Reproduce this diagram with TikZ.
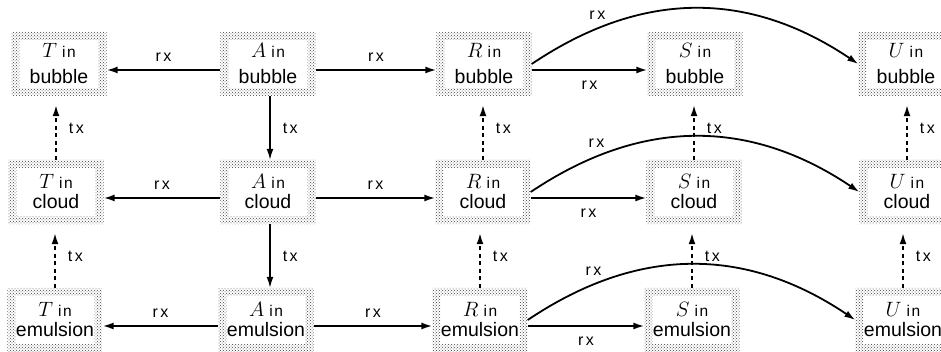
\documentclass[tikz,border=0pt]{standalone}
\usepackage{fontspec}
\setmainfont{Liberation Sans}
\newfontfamily\labfont[LetterSpace=16]{Liberation Sans}
\newfontfamily\infont[LetterSpace=10]{Liberation Sans}
\usetikzlibrary{arrows.meta,patterns}
\newcommand\bx[2]{{\fontsize{22}{22}\selectfont$#1$}\hspace{5pt}{\infont\fontsize{15.5}{15.5}\selectfont in}\\#2}
\begin{document}
\begin{tikzpicture}[x=1pt,y=-1pt,
  box/.style={minimum width=95pt,minimum height=64pt,inner sep=0pt,align=center,font=\fontsize{19.5}{26}\selectfont},
  tight/.style={font=\fontsize{19.5}{20}\selectfont},
  arr/.style={-{Latex[length=11pt,width=7pt]},line width=1.8pt},
  darr/.style={arr,line width=1.6pt,dash pattern=on 4pt off 3.5pt,shorten >=9pt},
  lab/.style={font=\labfont\fontsize{16}{16}\selectfont,inner sep=0pt},
  frame/.style={pattern=crosshatch dots,pattern color=black!75,even odd rule}]
\useasboundingbox (0,0) rectangle (941,352);
% boxes
\node[box] (Tb) at (59,64) {\bx{T}{bubble}};
\node[box] (Ab) at (268,64) {\bx{A}{bubble}};
\node[box] (Rb) at (484,64) {\bx{R}{bubble}};
\node[box] (Sb) at (695,64) {\bx{S}{bubble}};
\node[box] (Ub) at (906,64) {\bx{U}{bubble}};
\node[box,tight] (Tc) at (56,192) {\bx{T}{cloud}};
\node[box,tight] (Ac) at (268,192) {\bx{A}{cloud}};
\node[box,tight] (Rc) at (483,192) {\bx{R}{cloud}};
\node[box,tight] (Sc) at (694,192) {\bx{S}{cloud}};
\node[box,tight] (Uc) at (907,192) {\bx{U}{cloud}};
\node[box,tight] (Te) at (55,320) {\bx{T}{emulsion}};
\node[box,tight] (Ae) at (266,320) {\bx{A}{emulsion}};
\node[box,tight] (Re) at (480,320) {\bx{R}{emulsion}};
\node[box,tight] (Se) at (692,320) {\bx{S}{emulsion}};
\node[box,tight] (Ue) at (903,320) {\bx{U}{emulsion}};
\foreach \n in {Tb,Ab,Rb,Sb,Ub,Tc,Ac,Rc,Sc,Uc,Te,Ae,Re,Se,Ue}
  \path[frame] (\n.north west) rectangle (\n.south east)
    ([xshift=8pt,yshift=-8pt]\n.north west) rectangle ([xshift=-8pt,yshift=8pt]\n.south east);
% horizontal reactions
\foreach \r in {b,c,e}{
  \draw[arr] ([yshift=-6pt]A\r.west) -- ([yshift=-6pt]T\r.east) node[midway,above=8pt,lab]{rx};
  \draw[arr] ([yshift=-6pt]A\r.east) -- ([yshift=-6pt]R\r.west) node[midway,above=8pt,lab]{rx};
  \draw[arr] ([yshift=-6pt]R\r.east) -- ([yshift=-6pt]S\r.west) node[midway,below=10pt,lab]{rx};
  \draw[arr] (R\r.east) .. controls +(110,-74) and +(-110,-74) .. (U\r.west) node[pos=0.2,above=8pt,lab]{rx};
}
% vertical transport
\draw[arr,line width=1.5pt] ([xshift=2pt]Ab.south) -- ([xshift=2pt]Ab.south |- Ac.north) node[midway,right=12pt,lab]{tx};
\draw[arr,line width=1.5pt] ([xshift=2pt]Ac.south) -- ([xshift=2pt]Ac.south |- Ae.north) node[midway,right=12pt,lab]{tx};
\foreach \c in {T,R,S,U}{
  \draw[darr] (\c c.north) -- (\c c.north |- \c b.south) node[midway,right=12pt,lab]{tx};
  \draw[darr] (\c e.north) -- (\c e.north |- \c c.south) node[midway,right=12pt,lab]{tx};
}
\end{tikzpicture}
\end{document}
